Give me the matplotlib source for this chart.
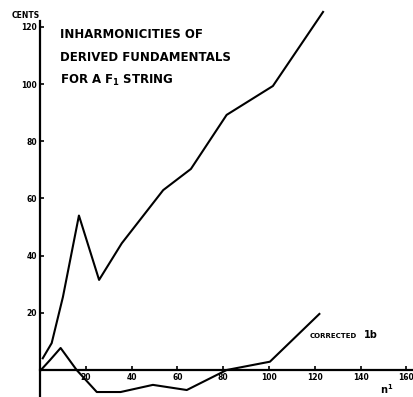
import matplotlib
matplotlib.use("Agg")
import matplotlib.pyplot as plt

# derived fundamentals, n^2 vs inharmonicity in cents
n2_raw = [1.2, 5.1, 10.0, 17.0, 25.8, 35.7, 53.8, 65.9, 81.5, 101.7, 123.6]
cents_raw = [4.1, 9.4, 25.5, 54.0, 31.5, 44.3, 62.9, 70.3, 89.2, 99.3, 125.2]

# same, after correction for 1b
n2_corr = [0.4, 4.4, 9.0, 16.0, 24.8, 35.2, 49.3, 64.1, 81.5, 100.4, 122.0]
cents_corr = [0.0, 3.5, 7.7, 0.0, -7.7, -7.7, -5.2, -7.0, 0.0, 2.9, 19.6]

xticks = [20, 40, 60, 80, 100, 120, 140, 160]
yticks = [20, 40, 60, 80, 100, 120]

W, H = 414, 397
fig = plt.figure(figsize=(W / 100, H / 100), dpi=100)
ax = fig.add_axes([40 / W, 0, 1 - 40 / W, 1])
ax.set_xlim(0, 374 / 2.29)
ax.set_ylim(-27 / 2.86, 370 / 2.86)

ink = "black"
ax.plot(n2_raw, cents_raw, color=ink, lw=1.5, solid_joinstyle="round", zorder=2)
ax.plot(n2_corr, cents_corr, color=ink, lw=1.5, solid_joinstyle="round", zorder=2)

for side in ("top", "right"):
    ax.spines[side].set_visible(False)
ax.spines["bottom"].set_position(("data", 0))
ax.spines["left"].set_bounds(-27 / 2.86, 122)
ax.spines["left"].set_linewidth(1.6)
ax.spines["bottom"].set_linewidth(1.6)

ax.set_xticks(xticks)
ax.set_yticks(yticks)
ax.tick_params(axis="both", direction="in", length=3, width=1.2, labelsize=5.5, pad=2)
for lab in ax.get_xticklabels() + ax.get_yticklabels():
    lab.set_fontweight("bold")
for lab in ax.get_xticklabels():
    lab.set_bbox(dict(fc="white", ec="none", pad=1.0))

font = dict(family="DejaVu Sans", fontweight="bold", color=ink)
fig.text(12 / W, 1 - 15 / H, "CENTS", fontsize=5.5, va="center", ha="left", **font)
title = ["INHARMONICITIES OF", "DERIVED FUNDAMENTALS", r"FOR A F$_\mathregular{1}$ STRING"]
for i, line in enumerate(title):
    fig.text(60 / W, 1 - (35 + 22.5 * i) / H, line, fontsize=8.5,
             va="center", ha="left", **font)
fig.text(310 / W, 1 - 336 / H, "CORRECTED", fontsize=5, va="center", ha="left", **font)
fig.text(364 / W, 1 - 335 / H, "1b", fontsize=7, va="center", ha="left", **font)
fig.text(380 / W, 1 - 389 / H, r"n$^\mathregular{1}$", fontsize=7, va="center", ha="left", **font)

fig.savefig("out.png", dpi=100)
